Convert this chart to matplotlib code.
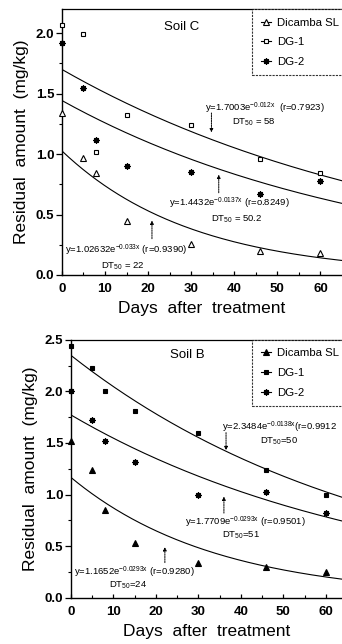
import numpy as np
import matplotlib
matplotlib.use("Agg")
import matplotlib.pyplot as plt
from matplotlib.lines import Line2D

plt.rcParams['font.family'] = ['Liberation Sans', 'DejaVu Sans']
plt.rcParams['mathtext.default'] = 'regular'

days = [0, 5, 8, 15, 30, 46, 60]
series_names = ["Dicamba SL", "DG-1", "DG-2"]

# Soil C
soilC_dicamba = [1.34, 0.97, 0.84, 0.45, 0.26, 0.20, 0.185]
soilC_dg1 = [2.07, 1.99, 1.02, 1.32, 1.24, 0.96, 0.84]
soilC_dg2 = [1.92, 1.55, 1.12, 0.90, 0.85, 0.67, 0.78]
soilC_fit_a = [1.02632, 1.7003, 1.4432]
soilC_fit_k = [0.033, 0.012, 0.0137]

# Soil B
soilB_dicamba = [1.515, 1.24, 0.85, 0.53, 0.34, 0.30, 0.25]
soilB_dg1 = [2.44, 2.23, 2.00, 1.81, 1.60, 1.24, 1.00]
soilB_dg2 = [2.00, 1.725, 1.515, 1.32, 1.00, 1.02, 0.82]
soilB_fit_a = [1.1652, 2.3484, 1.7709]
soilB_fit_k = [0.0293, 0.0138, 0.0136]

fig = plt.figure(figsize=(3.42, 6.44), dpi=100)

ax1 = fig.add_axes([0.181, 0.573, 0.819, 0.413])
ax2 = fig.add_axes([0.2076, 0.0719, 0.7924, 0.4005])


def style_axes(ax, ymax, xmax):
    ax.set_xlim(0, xmax)
    ax.set_ylim(0, ymax)
    ax.set_xticks([0, 10, 20, 30, 40, 50, 60])
    ax.set_xticks(np.arange(0, 65, 5), minor=True)
    ax.set_yticks(np.arange(0, ymax + 0.01, 0.5))
    ax.set_yticks(np.arange(0, ymax + 0.01, 0.25), minor=True)
    ax.set_yticklabels([f"{v:.1f}" for v in np.arange(0, ymax + 0.01, 0.5)])
    ax.tick_params(axis='y', which='major', direction='out', length=4, width=0.9, labelsize=9.5, pad=1.5)
    ax.tick_params(axis='y', which='minor', direction='out', length=2.5, width=0.8)
    ax.tick_params(axis='x', which='major', direction='in', length=3, width=0.9, labelsize=9.5, pad=6)
    ax.tick_params(axis='x', which='minor', direction='in', length=2, width=0.8)
    for s in ['left', 'bottom']:
        ax.spines[s].set_linewidth(1.0)
    ax.spines['top'].set_linestyle((0, (2, 1)))
    ax.spines['top'].set_linewidth(0.9)
    ax.spines['right'].set_visible(False)
    ax.set_xlabel("Days  after  treatment", fontsize=12.5, labelpad=4)
    ax.set_ylabel("Residual  amount  (mg/kg)", fontsize=12.5, labelpad=5)
    for t in ax.get_yticklabels() + ax.get_xticklabels():
        t.set_fontweight('bold')


def draw(ax, dic, dg1, dg2, fa, fk, filled, xmax):
    xs = np.linspace(0, xmax, 200)
    for a, k in zip(fa, fk):
        ax.plot(xs, a * np.exp(-k * xs), color='black', lw=0.8, clip_on=True)
    fc = 'black' if filled else 'white'
    ax.plot(days, dic, ls='none', marker='^', ms=4.5, mfc=fc, mec='black', mew=0.8, clip_on=False, zorder=5)
    ax.plot(days, dg1, ls='none', marker='s', ms=3.5, mfc=fc, mec='black', mew=0.8, clip_on=False, zorder=5)
    ax.plot(days, dg2, ls='none', marker=(8, 2, 0), ms=4.5, mfc='black', mec='black', mew=0.9, clip_on=False, zorder=5)
    handles = [
        Line2D([0], [0], color='black', lw=0.8, marker='^', ms=4, mfc=fc, mec='black', mew=0.8),
        Line2D([0], [0], color='black', lw=0.8, marker='s', ms=3.5, mfc=fc, mec='black', mew=0.8),
        Line2D([0], [0], color='black', lw=0.8, marker=(8, 2, 0), ms=4.5, mec='black', mew=0.9),
    ]
    return handles


def arrow(ax, x, y0, y1):
    ax.annotate("", xy=(x, y1), xytext=(x, y0),
                arrowprops=dict(arrowstyle='-|>', lw=0.7, ls=(0, (1.5, 1)), color='black',
                                mutation_scale=5, shrinkA=0, shrinkB=0))


def make_legend(ax, handles, x0):
    leg = ax.legend(handles, series_names, loc='upper left', bbox_to_anchor=(x0, 1.0),
                    frameon=True, fancybox=False, edgecolor='black', fontsize=8.2,
                    handlelength=0.9, handletextpad=0.55, borderpad=0.75, labelspacing=0.85,
                    borderaxespad=0.0)
    leg.get_frame().set_linewidth(0.8)
    leg.get_frame().set_linestyle((0, (2, 1)))
    return leg


# ---- Soil C ----
style_axes(ax1, 2.2, 65)
hC = draw(ax1, soilC_dicamba, soilC_dg1, soilC_dg2, soilC_fit_a, soilC_fit_k, False, 65)
ax1.text(27.7, 2.05, "Soil C", fontsize=9.5, ha='center', va='center')
make_legend(ax1, hC, 0.68)

ax1.text(33.2, 1.375, "y=1.7003e$^{-0.012x}$  (r=0.7923)", fontsize=6.8, ha='left', va='center')
ax1.text(39.5, 1.265, "DT$_{50}$ = 58", fontsize=6.8, ha='left', va='center')
arrow(ax1, 34.7, 1.34, 1.18)

ax1.text(24.8, 0.59, "y=1.4432e$^{-0.0137x}$ (r=o.8249)", fontsize=6.8, ha='left', va='center')
ax1.text(34.5, 0.465, "DT$_{50}$ = 50.2", fontsize=6.8, ha='left', va='center')
arrow(ax1, 36.4, 0.68, 0.83)

ax1.text(0.8, 0.20, "y=1.02632e$^{-0.033x}$ (r=0.9390)", fontsize=6.8, ha='left', va='center')
ax1.text(9.0, 0.07, "DT$_{50}$ = 22", fontsize=6.8, ha='left', va='center')
arrow(ax1, 20.9, 0.30, 0.45)

# ---- Soil B ----
style_axes(ax2, 2.5, 63.8)
hB = draw(ax2, soilB_dicamba, soilB_dg1, soilB_dg2, soilB_fit_a, soilB_fit_k, True, 63.8)
ax2.text(27.3, 2.35, "Soil B", fontsize=9.5, ha='center', va='center')
make_legend(ax2, hB, 0.668)

ax2.text(35.5, 1.65, "y=2.3484e$^{-0.0138x}$(r=0.9912", fontsize=6.8, ha='left', va='center')
ax2.text(44.5, 1.52, "DT$_{50}$=50", fontsize=6.8, ha='left', va='center')
arrow(ax2, 36.5, 1.60, 1.43)

ax2.text(26.8, 0.735, "y=1.7709e$^{-0.0293x}$ (r=0.9501)", fontsize=6.8, ha='left', va='center')
ax2.text(35.5, 0.61, "DT$_{50}$=51", fontsize=6.8, ha='left', va='center')
arrow(ax2, 36.0, 0.82, 0.98)

ax2.text(0.8, 0.25, "y=1.1652e$^{-0.0293x}$ (r=0.9280)", fontsize=6.8, ha='left', va='center')
ax2.text(9.0, 0.125, "DT$_{50}$=24", fontsize=6.8, ha='left', va='center')
arrow(ax2, 22.1, 0.34, 0.49)

fig.savefig("out.png", dpi=100)
